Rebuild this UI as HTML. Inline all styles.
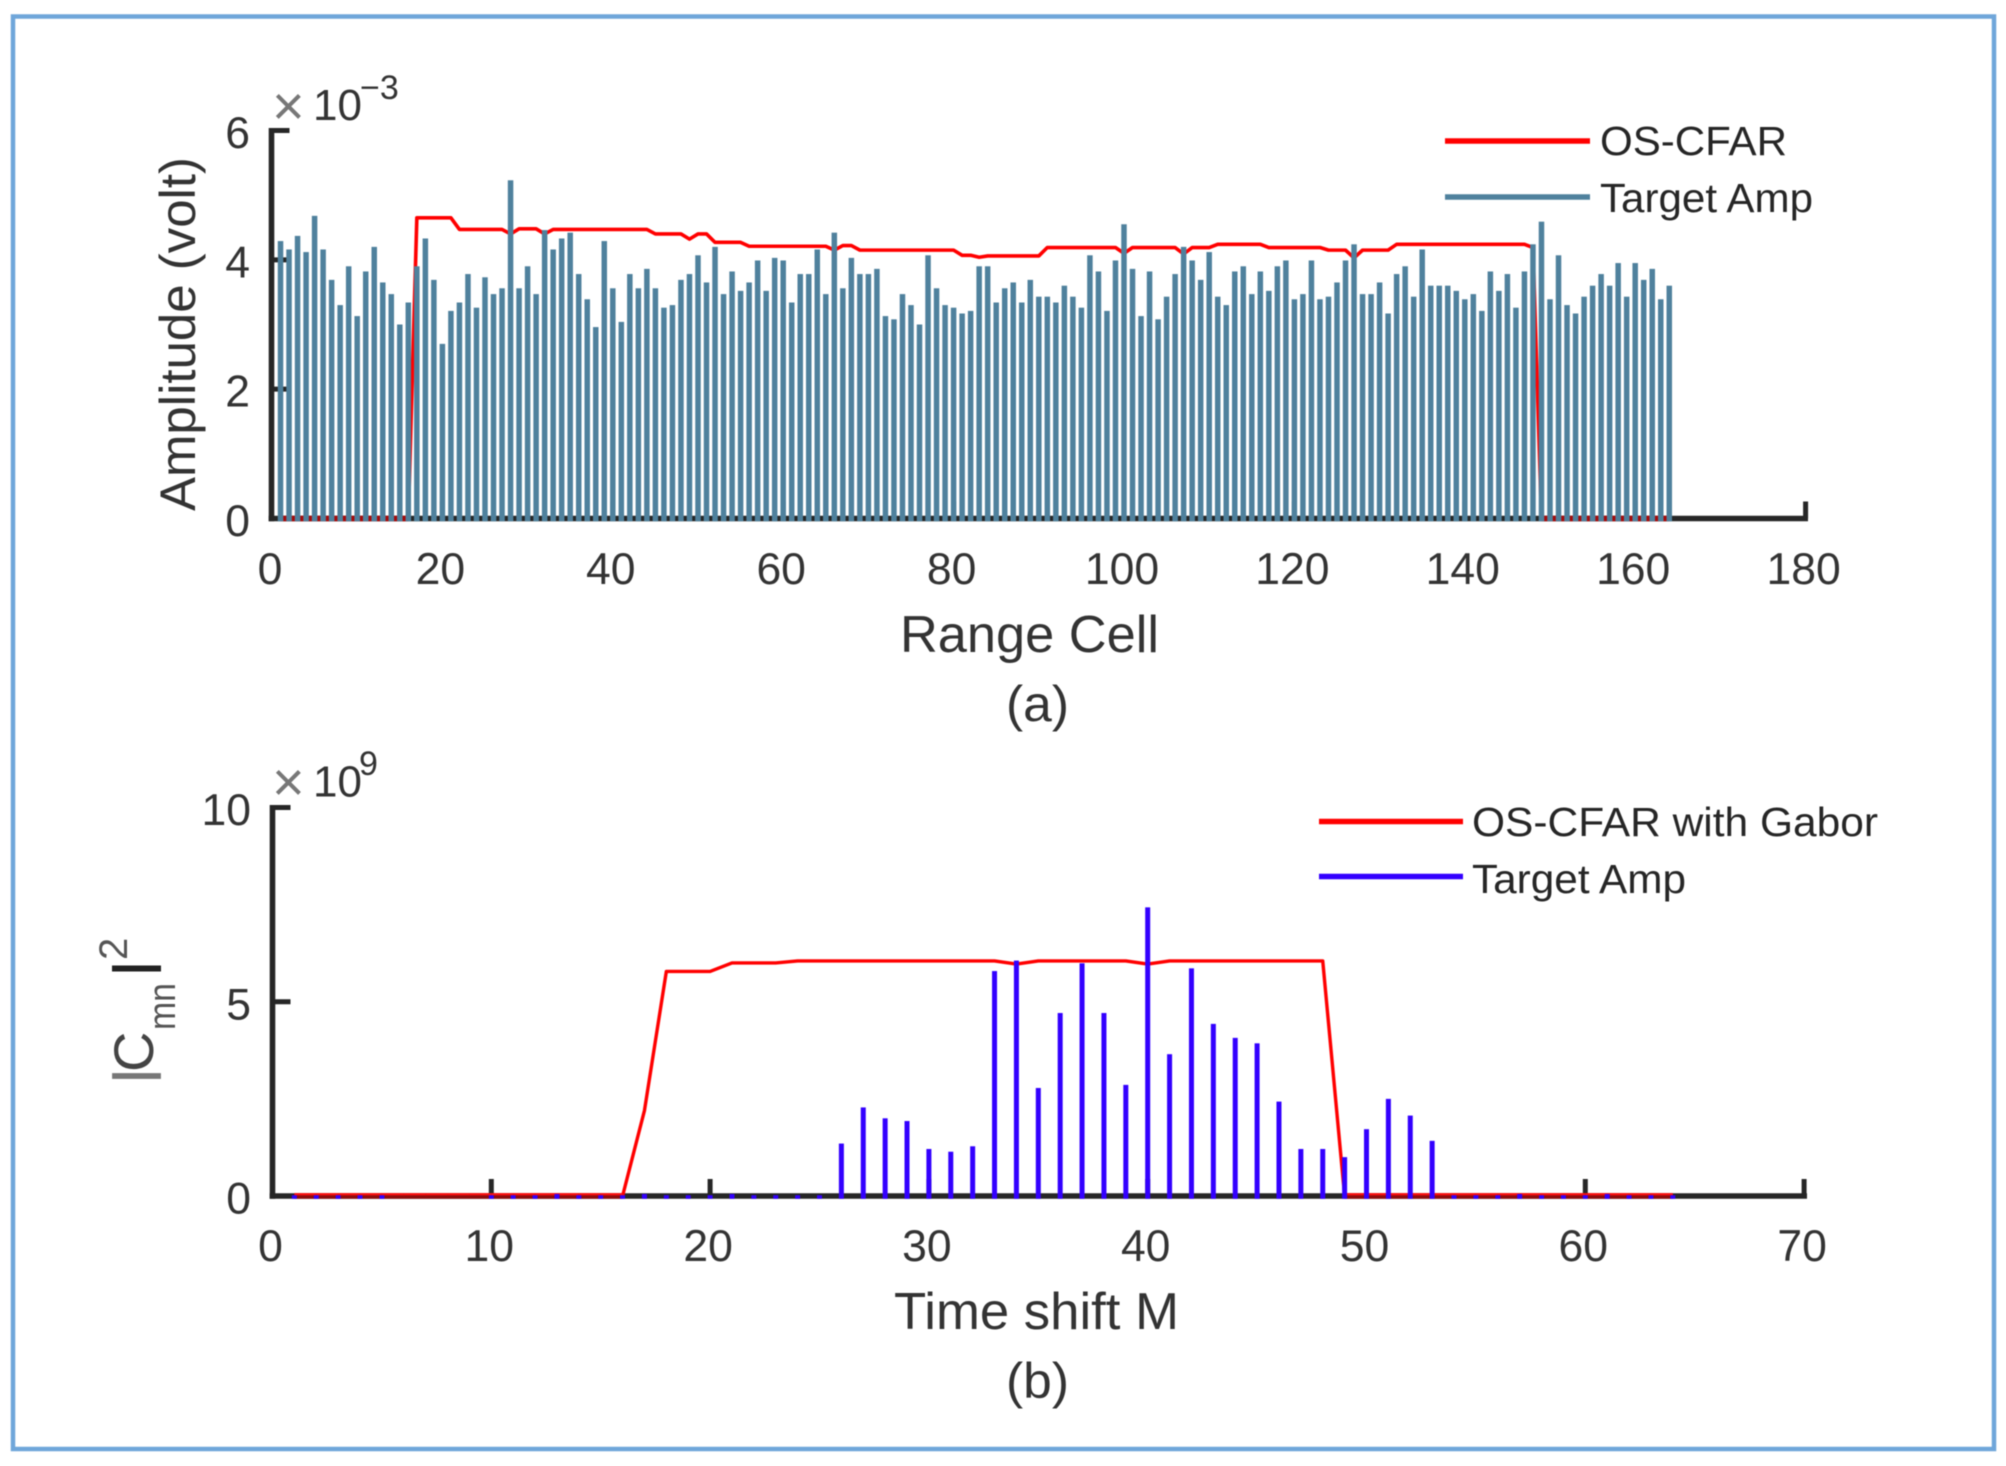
<!DOCTYPE html>
<html lang="en">
<head>
<meta charset="utf-8">
<title>OS-CFAR range cell and time shift charts</title>
<style>
html,body{margin:0;padding:0;background:#fff;width:2006px;height:1466px;overflow:hidden}
svg{position:absolute;left:0;top:0;filter:blur(0.45px)}
text{font-family:"Liberation Sans",Arial,sans-serif;fill:#333}
</style>
</head>
<body>
<svg id="chart" xmlns="http://www.w3.org/2000/svg" width="2006" height="1466" viewBox="0 0 2006 1466">
  <rect x="0" y="0" width="2006" height="1466" fill="#fff"/>
  <rect x="13" y="16.5" width="1981" height="1432.5" fill="none" stroke="#6fa6da" stroke-width="4.5"/>

  <g id="panelA"></g>
  <g id="panelB"></g>

  <g>
    <text transform="translate(195,511) rotate(-90)" font-size="50" textLength="354" lengthAdjust="spacingAndGlyphs">Amplitude (volt)</text>
    <text x="900" y="652" font-size="52" textLength="259" lengthAdjust="spacingAndGlyphs">Range Cell</text>
    <text x="1006" y="721" font-size="50" textLength="63" lengthAdjust="spacingAndGlyphs">(a)</text>
    <text x="272" y="125" font-size="56" style="fill:#777">×</text>
    <text x="313" y="120" font-size="44">10</text>
    <text x="360" y="99" font-size="34">−3</text>
    <line x1="1445" x2="1590" y1="141" y2="141" stroke="#ff0000" stroke-width="5.5"/>
    <text x="1600" y="155" font-size="41" textLength="187" lengthAdjust="spacingAndGlyphs" style="fill:#262626">OS-CFAR</text>
    <line x1="1445" x2="1590" y1="197" y2="197" stroke="#4f819d" stroke-width="5.5"/>
    <text x="1600" y="212" font-size="41" textLength="213" lengthAdjust="spacingAndGlyphs" style="fill:#262626">Target Amp</text>
  </g>

  <g>
    <text transform="translate(149.5,1082.5) rotate(-90)" font-size="50" style="fill:#777;stroke:#777;stroke-width:1.8">|</text>
    <text transform="translate(153,1072) rotate(-90)" font-size="56" style="fill:#444">C</text>
    <text transform="translate(175,1030) rotate(-90)" font-size="38" textLength="47" lengthAdjust="spacingAndGlyphs" style="fill:#555">mn</text>
    <text transform="translate(149.5,975) rotate(-90)" font-size="50" style="fill:#222;stroke:#222;stroke-width:2">|</text>
    <text transform="translate(127,960) rotate(-90)" font-size="40" style="fill:#555">2</text>
    <text x="894" y="1329" font-size="52" textLength="285" lengthAdjust="spacingAndGlyphs">Time shift M</text>
    <text x="1006" y="1398" font-size="50" textLength="63" lengthAdjust="spacingAndGlyphs">(b)</text>
    <text x="272" y="801" font-size="56" style="fill:#777">×</text>
    <text x="313" y="796.5" font-size="44">10</text>
    <text x="359" y="775" font-size="34">9</text>
    <line x1="1319" x2="1463" y1="821.5" y2="821.5" stroke="#ff0000" stroke-width="5.5"/>
    <text x="1472" y="836" font-size="41" textLength="406" lengthAdjust="spacingAndGlyphs" style="fill:#262626">OS-CFAR with Gabor</text>
    <line x1="1319" x2="1463" y1="876.5" y2="876.5" stroke="#3300ff" stroke-width="5.5"/>
    <text x="1472" y="893" font-size="41" textLength="214" lengthAdjust="spacingAndGlyphs" style="fill:#262626">Target Amp</text>
  </g>
</svg>

<script>
// Panel (a) data: range cells 1..164 (amplitude in units of 1e-3 volt)
const ampA = [
4.29,4.16,4.37,4.12,4.68,4.16,3.69,3.30,3.90,3.13,
3.82,4.20,3.65,3.47,3.00,3.34,3.90,4.33,3.69,2.70,
3.21,3.34,3.78,3.26,3.73,3.47,3.56,5.23,3.56,3.90,
3.47,4.46,4.16,4.33,4.42,3.78,3.39,2.96,4.29,3.56,
3.04,3.78,3.56,3.86,3.56,3.26,3.30,3.69,3.78,4.07,
3.65,4.20,3.47,3.82,3.52,3.65,3.99,3.52,4.03,3.99,
3.34,3.78,3.78,4.16,3.47,4.42,3.56,4.03,3.78,3.78,
3.86,3.13,3.08,3.47,3.30,3.00,4.07,3.56,3.30,3.26,
3.17,3.21,3.90,3.90,3.34,3.56,3.65,3.34,3.69,3.43,
3.43,3.34,3.60,3.43,3.26,4.07,3.82,3.21,3.99,4.55,
3.86,3.13,3.82,3.08,3.43,3.78,4.20,3.99,3.69,4.12,
3.43,3.30,3.82,3.90,3.47,3.82,3.52,3.90,3.99,3.39,
3.47,3.99,3.39,3.43,3.65,3.99,4.24,3.47,3.47,3.65,
3.17,3.78,3.90,3.43,4.16,3.60,3.60,3.60,3.52,3.39,
3.47,3.21,3.82,3.52,3.78,3.26,3.82,4.24,4.59,3.39,
4.07,3.30,3.17,3.43,3.60,3.78,3.60,3.95,3.43,3.95,
3.69,3.86,3.39,3.60
];
const cfarA = [
0,0,0,0,0,0,0,0,0,0,
0,0,0,0,0,0,4.65,4.65,4.65,4.65,
4.65,4.47,4.47,4.47,4.47,4.47,4.47,4.40,4.48,4.48,
4.48,4.40,4.47,4.47,4.47,4.47,4.47,4.47,4.47,4.47,
4.47,4.47,4.47,4.47,4.40,4.40,4.40,4.40,4.32,4.40,
4.40,4.27,4.27,4.27,4.27,4.21,4.21,4.21,4.21,4.21,
4.21,4.21,4.21,4.21,4.21,4.15,4.22,4.22,4.15,4.15,
4.15,4.15,4.15,4.15,4.15,4.15,4.15,4.15,4.15,4.15,
4.07,4.07,4.04,4.06,4.06,4.06,4.06,4.06,4.06,4.06,
4.19,4.19,4.19,4.19,4.19,4.19,4.19,4.19,4.19,4.10,
4.19,4.19,4.19,4.19,4.19,4.19,4.09,4.19,4.19,4.19,
4.24,4.24,4.24,4.24,4.24,4.24,4.19,4.19,4.19,4.19,
4.19,4.19,4.19,4.15,4.15,4.15,4.03,4.15,4.15,4.15,
4.15,4.24,4.24,4.24,4.24,4.24,4.24,4.24,4.24,4.24,
4.24,4.24,4.24,4.24,4.24,4.24,4.24,4.19,0,0,
0,0,0,0,0,0,0,0,0,0,
0,0,0,0
];
const xTicksA = [0,20,40,60,80,100,120,140,160,180];
const yTicksA = [0,2,4,6];

// Panel (b) data: time shift 1..64 (|Cmn|^2 in units of 1e9)
const ampB = [
0.02,0.02,0.02,0.02,0.02,0,0,0,0,0.02,
0.02,0.02,0.05,0.02,0.02,0.02,0.05,0.02,0.02,0.02,
0.05,0.02,0.02,0.02,0.02,1.35,2.28,2.00,1.93,1.21,
1.14,1.28,5.79,6.06,2.78,4.71,5.99,4.71,2.86,7.43,
3.65,5.86,4.43,4.07,3.93,2.43,1.21,1.21,1.00,1.72,
2.50,2.07,1.42,0.02,0.02,0.02,0.05,0.02,0.02,0.02,
0.05,0.02,0.02,0.02
];
const cfarB = [
0,0,0,0,0,0,0,0,0,0,
0,0,0,0,0,0,2.2,5.78,5.78,5.78,
6.0,6.0,6.0,6.05,6.05,6.05,6.05,6.05,6.05,6.05,
6.05,6.05,6.05,5.97,6.05,6.05,6.05,6.05,6.05,5.97,
6.05,6.05,6.05,6.05,6.05,6.05,6.05,6.05,0,0,
0,0,0,0,0,0,0,0,0,0,
0,0,0,0
];
const xTicksB = [0,10,20,30,40,50,60,70];
const yTicksB = [0,5,10];

const NS = 'http://www.w3.org/2000/svg';
const AXIS = '#262626';
const TICK_FONT = 44.5;

// Axis functions
function xA(v){ return 272 + v * 8.52; }
function yA(v){ return 518.5 - v * 64.67; }
function xB(v){ return 272.5 + v * 21.88; }
function yB(v){ return 1196 - v * 38.85; }

function make(tag, attrs){
  const el = document.createElementNS(NS, tag);
  for (const k in attrs) el.setAttribute(k, attrs[k]);
  return el;
}

function drawAxes(parent, xFn, yFn, xTicks, yTicks, spineX, spineTop, baseY, rightX, labelRight, tickBaseline){
  const spineY = make('line', {x1:spineX, x2:spineX, y1:spineTop, y2:baseY + 2.8, stroke:AXIS, 'stroke-width':5.6});
  
  
  parent.appendChild(spineY);

  const spineX2 = make('line', {x1:spineX - 2.8, x2:rightX, y1:baseY, y2:baseY, stroke:AXIS, 'stroke-width':5.6});
  
  
  parent.appendChild(spineX2);

  xTicks.forEach(function(t){
    const px = xFn(t);
    if (t !== 0) {
      const tick = make('line', {x1:px, x2:px, y1:baseY, y2:baseY - 17, stroke:AXIS, 'stroke-width':5});
      
      
      parent.appendChild(tick);
    }
    const lab = make('text', {x:px - 2, y:tickBaseline, 'font-size':TICK_FONT, 'text-anchor':'middle'});
    
    
    lab.textContent = String(t);
    parent.appendChild(lab);
  });

  yTicks.forEach(function(t){
    const py = yFn(t);
    if (t !== 0) {
      const tick = make('line', {x1:spineX, x2:spineX + 18, y1:py, y2:py, stroke:AXIS, 'stroke-width':5});
      
      
      parent.appendChild(tick);
    }
    const lab = make('text', {x:labelRight, y:py + 17.5, 'font-size':TICK_FONT, 'text-anchor':'end'});
    
    
    lab.textContent = String(t);
    parent.appendChild(lab);
  });
}

function drawLine(parent, values, xFn, yFn, width){
  const pts = values.map(function(v, i){ return xFn(i + 1).toFixed(2) + ',' + yFn(v).toFixed(2); }).join(' ');
  const line = make('polyline', {points:pts, fill:'none', stroke:'#ff0000', 'stroke-width':width, 'stroke-linejoin':'round'});
  
  
  parent.appendChild(line);
}

function drawZeroOverlay(parent, values, xFn, yFn, color, width, dy){
  for (let i = 0; i < values.length - 1; i++) {
    if (values[i] === 0 && values[i + 1] === 0) {
      const seg = make('line', {x1:xFn(i + 1), x2:xFn(i + 2), y1:yFn(0) + dy, y2:yFn(0) + dy, stroke:color, 'stroke-width':width});
      
      
      parent.appendChild(seg);
    }
  }
}

function drawBars(parent, values, xFn, yFn, color, width){
  values.forEach(function(v, i){
    if (v === 0) return;
    const cx = xFn(i + 1);
    const top = yFn(v);
    const bar = make('rect', {x:cx - width / 2, y:top, width:width, height:yFn(0) + 2.8 - top, fill:color});
    
    
    parent.appendChild(bar);
  });
}

const panelA = document.getElementById('panelA');
drawAxes(panelA, xA, yA, xTicksA, yTicksA, 271.5, 128, 518.5, 1808, 250, 584);
drawLine(panelA, cfarA, xA, yA, 3.6);
drawZeroOverlay(panelA, cfarA, xA, yA, '#a60a0a', 5.6, 0);
drawBars(panelA, ampA, xA, yA, '#4f819d', 5.5);

const panelB = document.getElementById('panelB');
drawAxes(panelB, xB, yB, xTicksB, yTicksB, 272.5, 805, 1196, 1807, 251, 1261);
drawLine(panelB, cfarB, xB, yB, 3.4);
drawZeroOverlay(panelB, cfarB, xB, yB, '#8f0c0c', 5.6, 0);
drawZeroOverlay(panelB, cfarB, xB, yB, '#ff1010', 2.2, -1.8);
drawBars(panelB, ampB, xB, yB, '#3300ff', 5);
</script>
</body>
</html>
